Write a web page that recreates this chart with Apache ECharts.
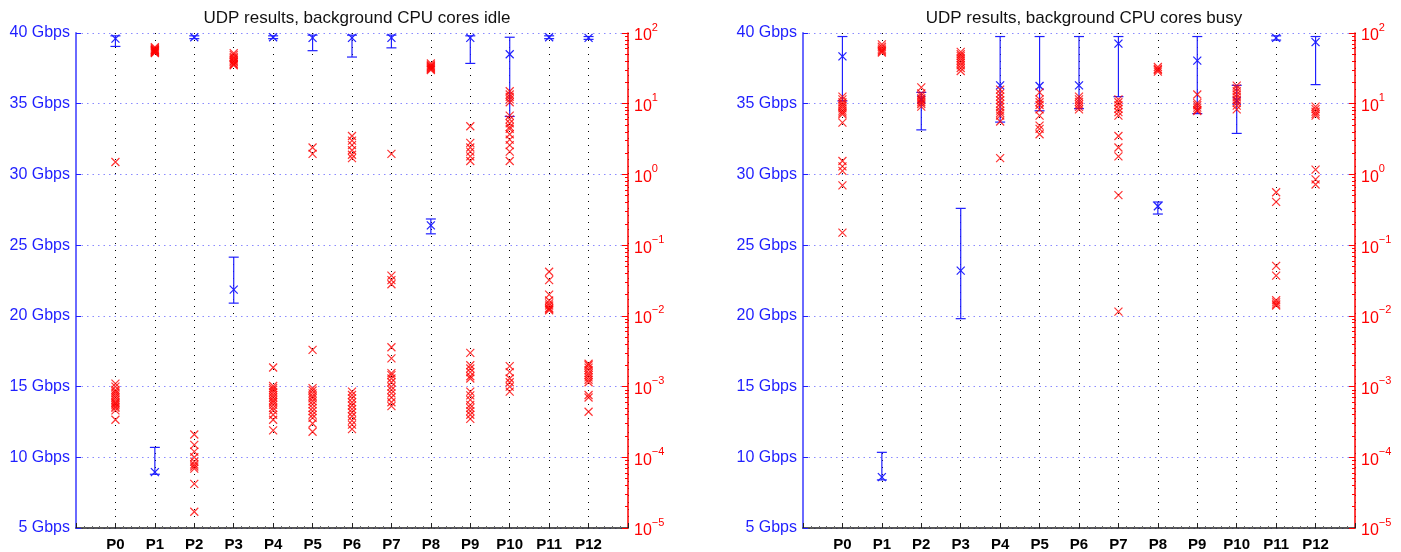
<!DOCTYPE html>
<html>
<head>
<meta charset="utf-8">
<script src="https://cdn.jsdelivr.net/npm/echarts@6/dist/echarts.min.js"></script>
<style>
  html, body { margin: 0; padding: 0; background: #fff; }
  #main { width: 1401px; height: 552px; }
</style>
</head>
<body>
<div id="main"></div>
<script>
// categories
const cats = ["P0", "P1", "P2", "P3", "P4", "P5", "P6", "P7", "P8", "P9", "P10", "P11", "P12"];
const titles = ["UDP results, background CPU cores idle", "UDP results, background CPU cores busy"];

// throughput (Gbps): mean, min, max per category
const idleMean = [39.6, 8.95, 39.7, 21.85, 39.7, 39.65, 39.65, 39.65, 26.4, 39.65, 38.5, 39.7, 39.65];
const idleLow = [39.05, 8.8, 39.6, 20.9, 39.6, 38.75, 38.3, 38.95, 25.8, 37.85, 34.1, 39.6, 39.55];
const idleHigh = [39.8, 10.7, 39.8, 24.15, 39.8, 39.85, 39.85, 39.85, 26.85, 39.8, 39.7, 39.8, 39.75];

const busyMean = [38.35, 8.6, 35.3, 23.2, 36.3, 36.25, 36.3, 39.25, 27.75, 38.05, 35.2, 39.65, 39.35];
const busyLow = [35.2, 8.4, 33.15, 19.8, 33.7, 34.5, 34.65, 35.5, 27.2, 34.3, 32.9, 39.5, 36.35];
const busyHigh = [39.75, 10.35, 35.8, 27.6, 39.75, 39.75, 39.75, 39.75, 28.05, 39.75, 36.3, 39.8, 39.75];

// loss values (log axis), one list per category
const idleLoss = [
  [1.5, 1.1e-3, 1.0e-3, 9e-4, 8.5e-4, 8e-4, 7.5e-4, 7e-4, 6.5e-4, 6e-4, 5.8e-4, 5.5e-4, 5.2e-4, 5e-4, 4.6e-4, 3.4e-4],
  [63, 61, 59, 58, 57, 56, 55, 54, 53, 52],
  [2.1e-4, 1.5e-4, 1.2e-4, 1.0e-4, 8.7e-5, 7.9e-5, 7.4e-5, 6.9e-5, 4.2e-5, 1.7e-5],
  [52, 49, 46, 44, 42, 40, 39, 37, 36, 35],
  [1.86e-3, 1.02e-3, 9.5e-4, 9e-4, 8.3e-4, 7.6e-4, 7e-4, 6.4e-4, 6e-4, 5.5e-4, 5e-4, 4.6e-4, 4e-4, 3.4e-4, 2.4e-4],
  [2.4, 1.95, 3.3e-3, 9.5e-4, 8.8e-4, 8e-4, 7.3e-4, 6.8e-4, 6.2e-4, 5.6e-4, 5e-4, 4.5e-4, 4e-4, 3.6e-4, 3.0e-4, 2.3e-4],
  [3.5, 3.0, 2.6, 2.2, 1.9, 1.7, 8.5e-4, 7.6e-4, 6.8e-4, 6e-4, 5.4e-4, 4.8e-4, 4.3e-4, 3.8e-4, 3.3e-4, 2.9e-4, 2.5e-4],
  [1.95, 3.7e-2, 3.2e-2, 2.8e-2, 3.6e-3, 2.5e-3, 1.55e-3, 1.45e-3, 1.3e-3, 1.15e-3, 1.0e-3, 9e-4, 8e-4, 7e-4, 6e-4, 5.3e-4],
  [37, 35, 34, 33, 32, 31, 30],
  [4.8, 2.8, 2.4, 2.1, 1.8, 1.55, 3.0e-3, 2.0e-3, 1.8e-3, 1.6e-3, 1.4e-3, 1.3e-3, 8.5e-4, 7.5e-4, 6.5e-4, 5.5e-4, 5e-4, 4.5e-4, 4e-4, 3.5e-4],
  [15, 13.5, 12.5, 11.5, 10.5, 6.8, 6, 5.3, 4.7, 4.4, 3.7, 3.1, 2.6, 2.1, 1.55, 1.95e-3, 1.6e-3, 1.3e-3, 1.15e-3, 1.0e-3, 8.5e-4],
  [4.2e-2, 3.2e-2, 2.0e-2, 1.65e-2, 1.5e-2, 1.4e-2, 1.3e-2, 1.25e-2, 1.2e-2],
  [2.1e-3, 2.0e-3, 1.85e-3, 1.7e-3, 1.55e-3, 1.45e-3, 1.35e-3, 1.25e-3, 1.15e-3, 7.6e-4, 7e-4, 4.4e-4]
];
const busyLoss = [
  [12.6, 11.5, 10.5, 9.8, 9.2, 8.6, 8, 7.5, 7.1, 5.4, 1.55, 1.3, 1.12, 0.7, 0.15],
  [69, 64, 60, 57, 55, 53],
  [17, 14, 13, 12, 11.2, 10.5, 9.9, 9.1],
  [54, 50, 47, 44, 41, 38, 35, 32, 29],
  [15.8, 14, 12.6, 11.2, 10, 9, 8, 7.4, 6.8, 5.6, 1.7],
  [14.5, 11.5, 10.5, 9.6, 8.3, 6.8, 4.9, 4.4, 3.7],
  [12.6, 11.5, 10.6, 9.8, 9, 8.3],
  [11.5, 10.5, 9.5, 8.5, 7.6, 6.8, 3.5, 2.4, 1.8, 0.51, 1.15e-2],
  [33, 31, 30, 28.5],
  [13.5, 10.2, 9.5, 8.8, 8.2, 7.9],
  [18, 16.5, 15, 13.5, 12.4, 11.3, 10.3, 9.4, 8.3],
  [0.56, 0.41, 5.1e-2, 3.7e-2, 1.66e-2, 1.55e-2, 1.45e-2, 1.4e-2],
  [9.1, 8.4, 7.7, 7.2, 6.8, 1.17, 0.85, 0.72]
];

const BLUE = "#1f1fff";
const RED = "#ff0000";
const FONT = "Liberation Sans";
const XMARK = "path://M0 0L10 10M10 0L0 10";

function errData(mean, low, high) {
  return mean.map((m, i) => [i, m, low[i], high[i]]);
}
function lossData(loss) {
  const out = [];
  loss.forEach((list, i) => list.forEach(v => out.push([i, v])));
  return out;
}

// blue error bar with x marker at the mean
function renderErr(params, api) {
  const x = api.value(0);
  const pm = api.coord([x, api.value(1)]);
  const pl = api.coord([x, api.value(2)]);
  const ph = api.coord([x, api.value(3)]);
  const c = 5, s = 4;
  const st = { stroke: BLUE, lineWidth: 1.2 };
  return {
    type: "group",
    children: [
      { type: "line", shape: { x1: pl[0], y1: pl[1], x2: ph[0], y2: ph[1] }, style: st },
      { type: "line", shape: { x1: pl[0] - c, y1: pl[1], x2: pl[0] + c, y2: pl[1] }, style: st },
      { type: "line", shape: { x1: ph[0] - c, y1: ph[1], x2: ph[0] + c, y2: ph[1] }, style: st },
      { type: "line", shape: { x1: pm[0] - s, y1: pm[1] - s, x2: pm[0] + s, y2: pm[1] + s }, style: st },
      { type: "line", shape: { x1: pm[0] - s, y1: pm[1] + s, x2: pm[0] + s, y2: pm[1] - s }, style: st }
    ]
  };
}

const grids = [
  { left: 76, right: 773, top: 33, bottom: 22 },
  { left: 803, right: 46, top: 33, bottom: 22 }
];

let xAxes = [], yAxes = [], series = [], titleList = [];
[idleLoss, busyLoss].forEach((loss, g) => {
  const plotLeft = grids[g].left;
  const plotRight = 1401 - grids[g].right;
  titleList.push({
    text: titles[g],
    left: (plotLeft + plotRight) / 2,
    textAlign: "center",
    top: 5,
    textStyle: { fontFamily: FONT, fontSize: 17, fontWeight: "normal", color: "#111" }
  });
  xAxes.push({
    type: "value",
    gridIndex: g,
    min: -1,
    max: 13,
    interval: 1,
    axisLine: { onZero: false, lineStyle: { color: "#222", width: 1.5 } },
    axisTick: { inside: true, length: 5, lineStyle: { color: "#222" } },
    minorTick: { show: true, splitNumber: 5, length: 2, lineStyle: { color: "#666" } },
    axisLabel: {
      margin: 9,
      fontFamily: FONT,
      fontSize: 15,
      fontWeight: "bold",
      color: "#000",
      formatter: v => (v >= 0 && v < cats.length ? cats[v] : "")
    },
    splitLine: { show: true, lineStyle: { color: "#000", type: [1, 6], width: 1 } }
  });
  yAxes.push({
    type: "value",
    gridIndex: g,
    position: "left",
    min: 5,
    max: 40,
    interval: 5,
    axisLine: { show: true, onZero: false, lineStyle: { color: "#6a6aff", width: 2 } },
    axisTick: { show: true, inside: true, length: 5, lineStyle: { color: BLUE } },
    axisLabel: { margin: 6, fontFamily: FONT, fontSize: 16, color: BLUE, formatter: v => v + " Gbps" },
    splitLine: { show: true, lineStyle: { color: "#8a8aff", type: [1.5, 4], width: 1 } }
  });
  yAxes.push({
    type: "log",
    logBase: 10,
    gridIndex: g,
    position: "right",
    min: 1e-5,
    max: 100,
    splitNumber: 7,
    axisLine: { show: true, onZero: false, lineStyle: { color: RED, width: 1.5 } },
    axisTick: { show: true, inside: true, length: 6, lineStyle: { color: RED } },
    minorTick: { show: true, splitNumber: 9, length: 3, lineStyle: { color: RED } },
    splitLine: { show: false },
    axisLabel: {
      margin: 6,
      color: RED,
      formatter: v => {
        const e = Math.round(Math.log10(v));
        return "{b|10}{s|" + (e < 0 ? "\u2212" + (-e) : e) + "}";
      },
      rich: {
        b: { fontFamily: FONT, fontSize: 16, color: RED, lineHeight: 22, verticalAlign: "bottom" },
        s: { fontFamily: FONT, fontSize: 11, color: RED, lineHeight: 22, verticalAlign: "top" }
      }
    }
  });
  const mean = g === 0 ? idleMean : busyMean;
  const low = g === 0 ? idleLow : busyLow;
  const high = g === 0 ? idleHigh : busyHigh;
  series.push({
    type: "custom",
    name: "throughput",
    xAxisIndex: g,
    yAxisIndex: g * 2,
    renderItem: renderErr,
    encode: { x: 0, y: [1, 2, 3] },
    data: errData(mean, low, high),
    z: 2
  });
  series.push({
    type: "scatter",
    name: "loss",
    xAxisIndex: g,
    yAxisIndex: g * 2 + 1,
    symbol: XMARK,
    symbolSize: 8,
    itemStyle: { color: "rgba(0,0,0,0)", borderColor: RED, borderWidth: 1.2 },
    data: lossData(loss),
    z: 3
  });
});

const myChart = echarts.init(document.getElementById("main"));
myChart.setOption({
  animation: false,
  backgroundColor: "#fff",
  title: titleList,
  grid: grids,
  xAxis: xAxes,
  yAxis: yAxes,
  series: series
});
</script>
</body>
</html>
